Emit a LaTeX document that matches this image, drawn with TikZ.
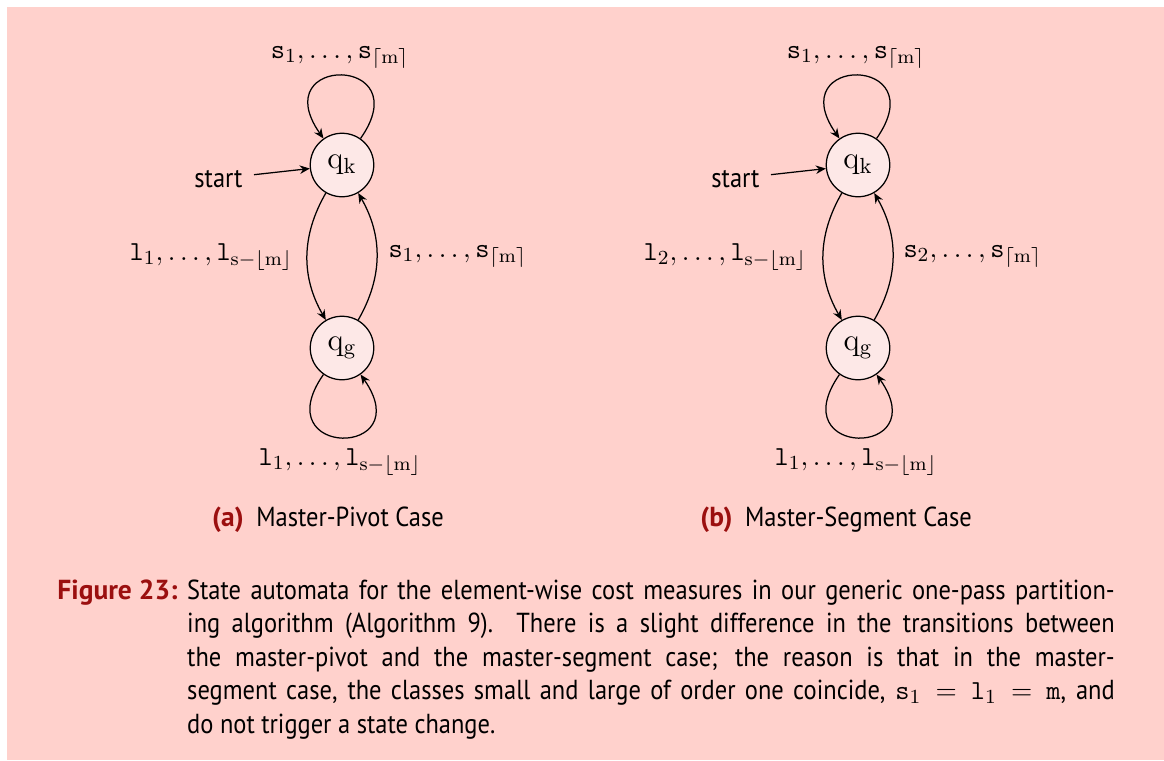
\documentclass[tikz,border=0pt]{standalone}
\usepackage{fontspec}
\setmainfont{PT Sans}[FakeStretch=0.89]
\newfontfamily\capbf{PT Sans Bold}
\setmathrm{Latin Modern Roman}
\usetikzlibrary{arrows.meta}
\definecolor{bgpink}{RGB}{255,209,204}
\definecolor{statefill}{RGB}{253,232,231}
\definecolor{capred}{RGB}{155,15,15}
\newcommand{\SLab}[1]{$\mathtt{s}_{#1},\dots,\mathtt{s}_{\lceil \mathrm{m}\rceil}$}
\newcommand{\LLab}[1]{$\mathtt{l}_{#1},\dots,\mathtt{l}_{\mathrm{s}-\lfloor \mathrm{m}\rfloor}$}
\begin{document}
\begin{tikzpicture}[x=0.4pt,y=-0.4pt,
  every node/.style={font=\fontsize{11}{13.4}\selectfont},
  state/.style={circle,draw,line width=0.5pt,fill=statefill,minimum size=25.4pt,inner sep=0pt,font=\fontsize{12.5}{14}\selectfont},
  trans/.style={-{Stealth[length=4pt,width=3.4pt]},line width=0.5pt},
  lbl/.style={inner sep=0pt},
  startlbl/.style={inner sep=4.4pt}]
\useasboundingbox (0,0) rectangle (1164,760);
\fill[bgpink] (7,7) rectangle (1164,760);
% ---------- (a) ----------
\node[state] (ka) at (342,165) {$\mathrm{q}_{\mathrm{k}}$};
\node[state] (ga) at (342,348) {$\mathrm{q}_{\mathrm{g}}$};
\node[startlbl,anchor=base east] (sa) at (254,187) {start};
\draw[trans] (sa) -- (ka);
\draw[trans] (ka.55) .. controls +(55:41pt) and +(125:41pt) .. (ka.125);
\draw[trans] (ka) to[bend right=30] (ga);
\draw[trans] (ga) to[bend right=30] (ka);
\draw[trans] (ga.235) .. controls +(235:41pt) and +(305:41pt) .. (ga.305);
\node[lbl,anchor=base] (ta) at (340,58) {\SLab{1}};
\node[lbl,anchor=base east] (la) at (293,260) {\LLab{1}};
\node[lbl,anchor=base west] (ra) at (388,257) {\SLab{1}};
\node[lbl,anchor=base] (ba) at (340,465) {\LLab{1}};
\node[lbl,anchor=base] (capa) at (328,526) {\textcolor{capred}{\capbf (a)}\hskip5pt Master-Pivot Case};
% ---------- (b) ----------
\node[state] (kb) at (858,165) {$\mathrm{q}_{\mathrm{k}}$};
\node[state] (gb) at (858,348) {$\mathrm{q}_{\mathrm{g}}$};
\node[startlbl,anchor=base east] (sb) at (771,187) {start};
\draw[trans] (sb) -- (kb);
\draw[trans] (kb.55) .. controls +(55:41pt) and +(125:41pt) .. (kb.125);
\draw[trans] (kb) to[bend right=30] (gb);
\draw[trans] (gb) to[bend right=30] (kb);
\draw[trans] (gb.235) .. controls +(235:41pt) and +(305:41pt) .. (gb.305);
\node[lbl,anchor=base] (tb) at (856,58) {\SLab{1}};
\node[lbl,anchor=base east] (lb) at (807,260) {\LLab{2}};
\node[lbl,anchor=base west] (rb) at (903,257) {\SLab{2}};
\node[lbl,anchor=base] (bb) at (856,465) {\LLab{1}};
\node[lbl,anchor=base] (capb) at (836,526) {\textcolor{capred}{\capbf (b)}\hskip5pt Master-Segment Case};
% ---------- caption ----------
\node[lbl,anchor=base east] (fig) at (178,599) {\textcolor{capred}{\capbf Figure 23:}};
\node[lbl,anchor=base west,text width=371pt,align=justify,
  execute at begin node={\hyphenpenalty=10000\exhyphenpenalty=0\tolerance=10000\emergencystretch=20pt}] (captext) at (186.7,599)
 {State automata for the element-wise cost measures in our generic one-pass partition-\linebreak ing algorithm (Algorithm 9). There is a slight difference in the transitions between\linebreak the master-pivot and the master-segment case; the reason is that in the master-\linebreak segment case, the classes small and large of order one coincide, $\mathtt{s}_1=\mathtt{l}_1=\mathtt{m}$, and\linebreak do not trigger a state change.};
\end{tikzpicture}
\end{document}
